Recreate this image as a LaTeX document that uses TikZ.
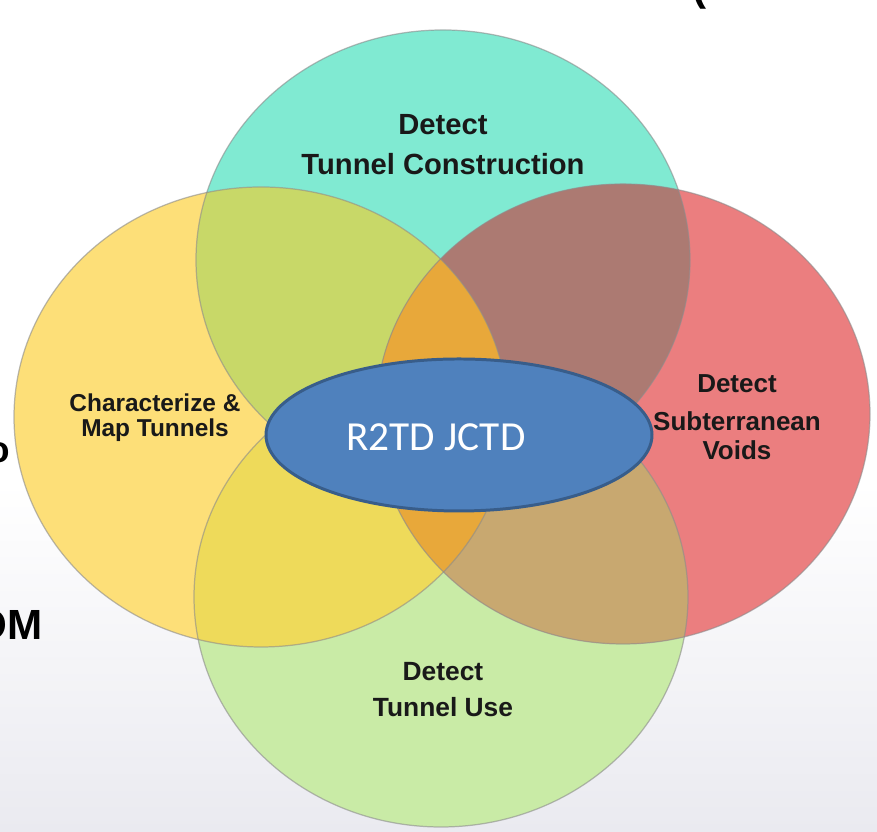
\documentclass[tikz,border=0pt]{standalone}
\usepackage{fontspec}
\setmainfont{Liberation Sans}
\newfontfamily\hubfont{Carlito}
\usetikzlibrary{shapes.geometric}

\definecolor{vennteal}{RGB}{128,234,210}
\definecolor{vennyellow}{RGB}{253,223,120}
\definecolor{vennred}{RGB}{235,126,127}
\definecolor{venngreen}{RGB}{201,235,166}
\definecolor{mixtl}{RGB}{200,216,104}
\definecolor{mixtr}{RGB}{172,122,114}
\definecolor{mixbl}{RGB}{238,218,90}
\definecolor{mixbr}{RGB}{200,168,112}
\definecolor{mixmid}{RGB}{232,168,58}
\definecolor{hubblue}{RGB}{79,129,189}
\definecolor{hubedge}{RGB}{56,93,138}
\definecolor{bgfog}{RGB}{234,234,240}

\def\vrx{4.94}
\def\vry{4.60}

\begin{document}
\begin{tikzpicture}[
        lbl/.style={font=\bfseries, align=center, text=black!90, inner sep=0pt},
        rim/.style={draw=black!45, line width=0.7pt, draw opacity=0.6},
        hub/.style={
            ellipse,
            draw=hubedge,
            line width=1.7pt,
            fill=hubblue,
            minimum width=7.72cm,
            minimum height=3.04cm,
            inner sep=0pt
        },
        hubtext/.style={font=\hubfont\fontsize{23.5}{26}\selectfont, text=white},
        cut/.style={font=\bfseries\fontsize{24}{28}\selectfont, inner sep=0pt}
    ]

    % Frame and background
    \clip (0,0) rectangle (17.54,16.64);
    \fill[white] (0,0) rectangle (17.54,16.64);
    \shade[top color=white, bottom color=bgfog] (0,0) rectangle (17.54,7);

    % Circle centres
    \coordinate (ctop) at (8.86,11.44);
    \coordinate (cbot) at (8.82,4.70);
    \coordinate (cleft) at (5.22,8.30);
    \coordinate (cright) at (12.46,8.36);

    % Circles
    \fill[vennteal] (ctop) ellipse [x radius=\vrx, y radius=\vry];
    \fill[venngreen] (cbot) ellipse [x radius=\vrx, y radius=\vry];
    \fill[vennyellow] (cleft) ellipse [x radius=\vrx, y radius=\vry];
    \fill[vennred] (cright) ellipse [x radius=\vrx, y radius=\vry];

    % Overlaps with the top circle
    \begin{scope}
        \clip (ctop) ellipse [x radius=\vrx, y radius=\vry];
        \fill[mixtl] (cleft) ellipse [x radius=\vrx, y radius=\vry];
        \fill[mixtr] (cright) ellipse [x radius=\vrx, y radius=\vry];
    \end{scope}

    % Overlaps with the bottom circle
    \begin{scope}
        \clip (cbot) ellipse [x radius=\vrx, y radius=\vry];
        \fill[mixbl] (cleft) ellipse [x radius=\vrx, y radius=\vry];
        \fill[mixbr] (cright) ellipse [x radius=\vrx, y radius=\vry];
    \end{scope}

    % Middle lens
    \begin{scope}
        \clip (cleft) ellipse [x radius=\vrx, y radius=\vry];
        \fill[mixmid] (cright) ellipse [x radius=\vrx, y radius=\vry];
    \end{scope}

    % Outlines
    \foreach \c in {ctop,cbot,cleft,cright}
        \draw[rim] (\c) ellipse [x radius=\vrx, y radius=\vry];

    % Labels
    \node[lbl, font=\bfseries\fontsize{16.6}{22.8}\selectfont] (lbltop) at (8.86,13.74)
        {Detect\\Tunnel Construction};
    \node[lbl, font=\bfseries\fontsize{13.9}{14.2}\selectfont] (lblleft) at (3.10,8.28)
        {Characterize \&\\Map Tunnels};
    \node[lbl, font=\bfseries\fontsize{14.8}{16.5}\selectfont] (lblright) at (14.74,8.30)
        {Detect\\[5pt]Subterranean\\Voids};
    \node[lbl, font=\bfseries\fontsize{15}{20.5}\selectfont] (lblbot) at (8.86,2.84)
        {Detect\\Tunnel Use};

    % Centre
    \node[hub] (hub) at (9.18,7.94) {};
    \node[hubtext] (hubtxt) at (8.72,7.90) {R2TD JCTD};

    % Cut-off slide text at the edges
    \node[cut, anchor=base east] (cutom) at (0.86,3.84) {OM};
    \node[cut, font=\bfseries\fontsize{21}{24}\selectfont, anchor=base east] (cuto) at (0.20,7.38) {o};
    \node[cut, anchor=base west] (cutparen) at (13.84,16.62) {(};

\end{tikzpicture}
\end{document}
